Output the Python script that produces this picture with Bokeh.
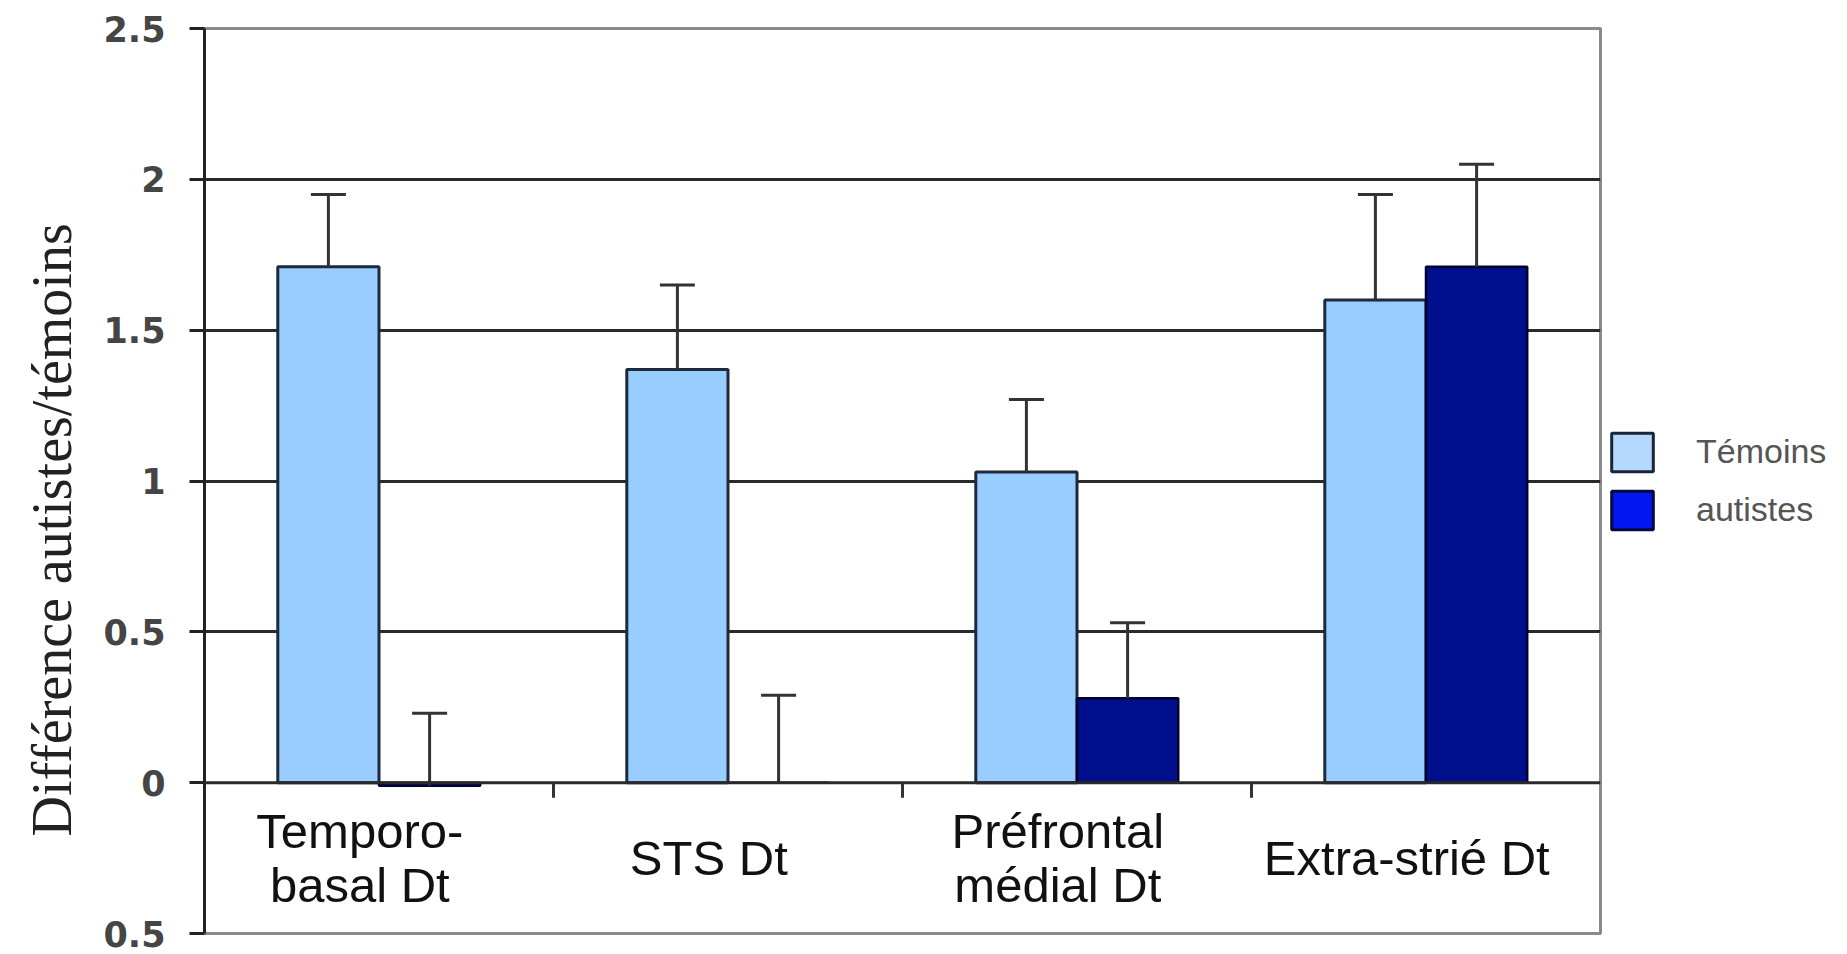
from bokeh.plotting import figure
from bokeh.models import (ColumnDataSource, FactorRange, Range1d, Whisker, TeeHead,
                          FixedTicker, CustomJSTickFormatter, Span, Legend, LegendItem, Title)
from bokeh.core.properties import value
from bokeh.transform import dodge
from bokeh.embed import file_html
from bokeh.resources import INLINE

# ---- data ----
categories = ["Temporo-basal Dt", "STS Dt", "Préfrontal médial Dt", "Extra-strié Dt"]
category_labels = ["Temporo-\nbasal Dt", "STS Dt", "Préfrontal\nmédial Dt", "Extra-strié Dt"]
temoins = [1.71, 1.37, 1.03, 1.60]
temoins_err_top = [1.95, 1.65, 1.27, 1.95]
autistes = [-0.01, 0.0, 0.28, 1.71]
autistes_err_top = [0.23, 0.29, 0.53, 2.05]
y_tick_values = [-0.5, 0, 0.5, 1, 1.5, 2, 2.5]
y_tick_labels = ["0.5", "0", "0.5", "1", "1.5", "2", "2.5"]
series_names = ["Témoins", "autistes"]
y_title = "Différence autistes/témoins"

src = ColumnDataSource(dict(cat=categories, label=category_labels,
                            tem=temoins, tem_hi=temoins_err_top,
                            aut=autistes, aut_hi=autistes_err_top))
bsrc = ColumnDataSource(dict(cat=categories[:-1]))

p = figure(x_range=FactorRange(factors=categories), y_range=Range1d(-0.5, 2.5),
           frame_width=1396, frame_height=905, output_backend="svg", toolbar_location=None,
           x_axis_location=None,
           min_border_left=203, min_border_right=10, min_border_top=28, min_border_bottom=21)

p.background_fill_color = "white"
p.outline_line_color = "#8a8a8a"
p.outline_line_width = 3

p.xgrid.visible = False
p.ygrid.ticker = FixedTicker(ticks=[t for t in y_tick_values if 0 < t < 2.5])
p.ygrid.grid_line_color = "#2a2a2a"
p.ygrid.grid_line_width = 3

ax = p.yaxis[0]
ax.ticker = FixedTicker(ticks=y_tick_values)
ax.formatter = CustomJSTickFormatter(code="return String(Math.abs(tick));")
ax.major_label_overrides = dict(zip(y_tick_values, y_tick_labels))
ax.major_tick_out = 15
ax.major_tick_in = 0
ax.minor_tick_line_color = None
ax.axis_line_width = 3
ax.axis_line_color = "#222222"
ax.major_tick_line_width = 3
ax.major_tick_line_color = "#222222"
ax.major_label_text_font = "DejaVu Sans"
ax.major_label_text_font_style = "bold"
ax.major_label_text_font_size = "35px"
ax.major_label_text_color = "#454545"
ax.major_label_standoff = 24

# y title, a little below the frame centre as in the source
p.add_layout(Title(text=y_title, align="left", offset=97, standoff=36,
                   text_font="Liberation Serif", text_font_style="normal",
                   text_font_size="56px", text_color="#222222"), "left")

# bars
p.vbar(x=dodge("cat", -0.145, range=p.x_range), top="tem", bottom=0, width=0.29, source=src,
       fill_color="#99CCFF", line_color="#1c2a3c", line_width=3)
p.vbar(x=dodge("cat", 0.145, range=p.x_range), top="aut", bottom=0, width=0.29, source=src,
       fill_color="#000F8C", line_color="#000030", line_width=2.5)

# zero line
p.add_layout(Span(location=0, dimension="width", line_color="#2a2a2a", line_width=3))

# error bars
for off, lo, hi in [(-0.145, "tem", "tem_hi"), (0.145, "aut", "aut_hi")]:
    w = Whisker(source=src, base=dodge("cat", off, range=p.x_range), lower=lo, upper=hi,
                dimension="height", line_color="#333333", line_width=3,
                upper_head=TeeHead(size=35, line_color="#333333", line_width=3),
                lower_head=None, level="glyph")
    p.add_layout(w)

# category boundary ticks
p.segment(x0=dodge("cat", 0.5, range=p.x_range), x1=dodge("cat", 0.5, range=p.x_range),
          y0=0, y1=-0.05, source=bsrc, line_color="#333333", line_width=3)

# category labels
p.text(x=dodge("cat", -0.055, range=p.x_range), y=-0.25, text="label", source=src,
       text_font=value("Liberation Sans"), text_font_size="49px", text_color="#111111",
       text_align="center", text_baseline="middle", text_line_height=1.0)

# legend (swatch colours as in the legend of the source)
lsrc = ColumnDataSource(dict(cat=[categories[0]], top=[float("nan")]))
r1 = p.vbar(x="cat", top="top", width=0.1, source=lsrc,
            fill_color="#B5D8FF", line_color="#1a2535", line_width=3)
r2 = p.vbar(x="cat", top="top", width=0.1, source=lsrc,
            fill_color="#0018F0", line_color="#000a40", line_width=3)
legend = Legend(items=[LegendItem(label=series_names[0], renderers=[r1]),
                       LegendItem(label=series_names[1], renderers=[r2])],
                location="center_left", orientation="vertical",
                glyph_width=52, glyph_height=48, label_height=48, spacing=10,
                label_standoff=38, label_text_font="Liberation Sans",
                label_text_font_size="34px", label_text_color="#555555",
                padding=9, margin=6, border_line_color=None, background_fill_alpha=0)
p.add_layout(legend, "right")

open("out.html", "w").write(file_html(p, INLINE))
